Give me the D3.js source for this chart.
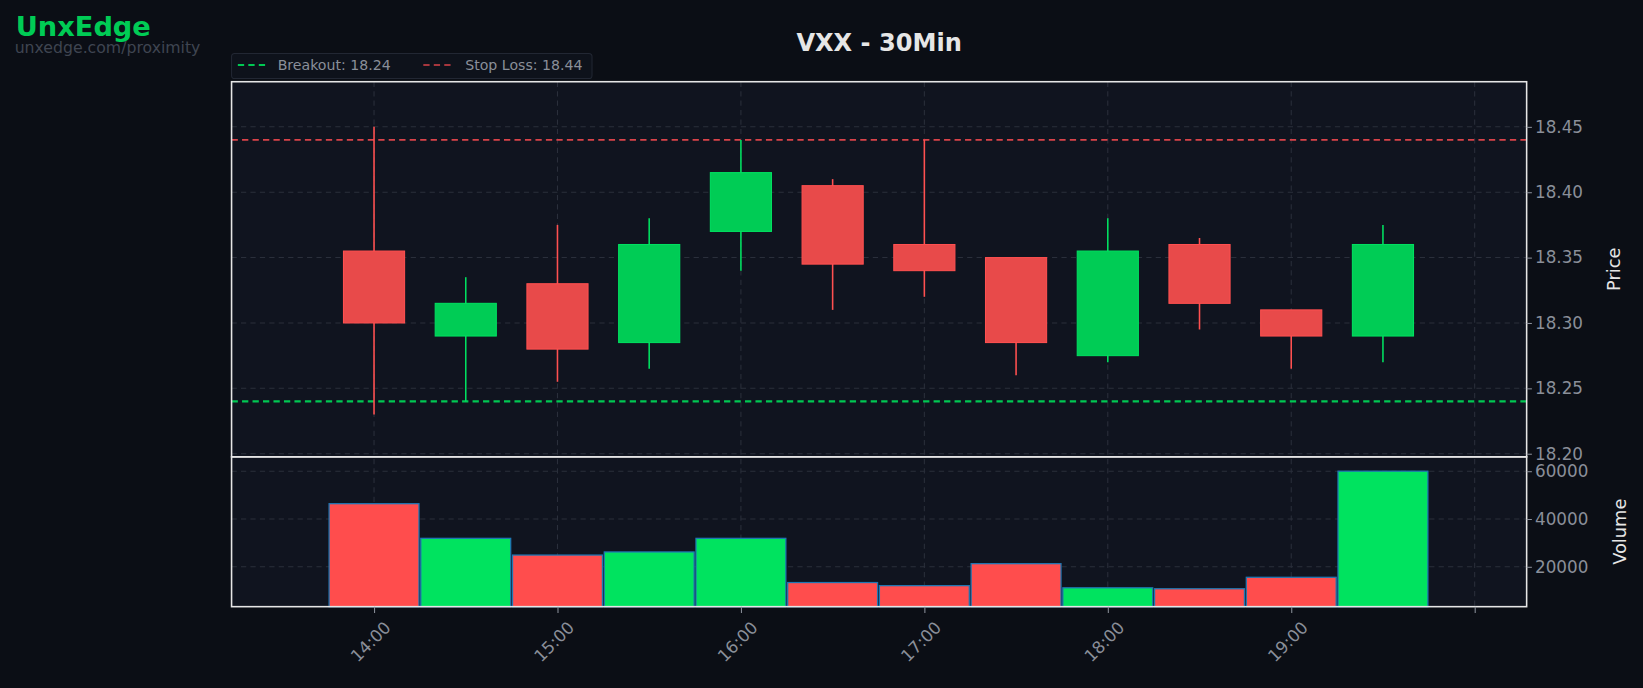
<!DOCTYPE html><html><head><meta charset="utf-8">
<script src="https://cdn.jsdelivr.net/npm/d3@7"></script>
<style>body{margin:0;background:#0b0e15;}svg{display:block}text{font-family:"DejaVu Sans",sans-serif}</style></head><body>
<svg id="c" width="1643" height="688"></svg>
<script>
const times=["14:00","14:30","15:00","15:30","16:00","16:30","17:00","17:30","18:00","18:30","19:00","19:30"];
const opens=[18.355,18.29,18.33,18.285,18.37,18.405,18.36,18.35,18.275,18.36,18.31,18.29];
const highs=[18.45,18.335,18.375,18.38,18.44,18.41,18.44,18.35,18.38,18.365,18.31,18.375];
const lows=[18.23,18.24,18.255,18.265,18.34,18.31,18.32,18.26,18.27,18.295,18.265,18.27];
const closes=[18.30,18.315,18.28,18.36,18.415,18.345,18.34,18.285,18.355,18.315,18.29,18.36];
const volumes=[46400,31900,24900,26200,31900,13400,12100,21300,11200,10800,15600,60000];
const priceTicks=[18.20,18.25,18.30,18.35,18.40,18.45];
const volTicks=[20000,40000,60000];
const xTicks=["14:00","15:00","16:00","17:00","18:00","19:00","20:00"];
const breakout=18.24, stopLoss=18.44;
const toMin=s=>{const [h,m]=s.split(":").map(Number);return h*60+m;};
const svg=d3.select("#c").append("g").attr("transform","scale(1.0478)");
const L=221,R=1457,pT=78,pB=436,vT=436,vB=579;
const x=d3.scaleLinear().domain([13*60+13.4,20*60+17]).range([L,R]);
const y=d3.scaleLinear().domain([18.1976,18.4845]).range([pB,pT]);
const yv=d3.scaleLinear().domain([3300,66000]).range([vB,vT]);
const grid="#2a2f3b";
svg.append("rect").attr("x",L).attr("y",pT).attr("width",R-L).attr("height",vB-pT).attr("fill","#10141f");
const g=svg.append("g");
xTicks.forEach(t=>{g.append("line").attr("x1",x(toMin(t))).attr("x2",x(toMin(t))).attr("y1",pT).attr("y2",vB).attr("stroke",grid).attr("stroke-dasharray","5,4");});
priceTicks.forEach(t=>g.append("line").attr("x1",L).attr("x2",R).attr("y1",y(t)).attr("y2",y(t)).attr("stroke",grid).attr("stroke-dasharray","5,4"));
volTicks.forEach(t=>g.append("line").attr("x1",L).attr("x2",R).attr("y1",yv(t)).attr("y2",yv(t)).attr("stroke",grid).attr("stroke-dasharray","5,4"));
svg.append("line").attr("x1",L).attr("x2",R).attr("y1",y(stopLoss)).attr("y2",y(stopLoss)).attr("stroke","#d9434a").attr("stroke-width",1.5).attr("stroke-dasharray","6,4");
svg.append("line").attr("x1",L).attr("x2",R).attr("y1",y(breakout)).attr("y2",y(breakout)).attr("stroke","#00c853").attr("stroke-width",2).attr("stroke-dasharray","6,4");
const bw=x(toMin("14:00")+20)-x(toMin("14:00"));
const vw=x(toMin("14:00")+29.4)-x(toMin("14:00"));
times.forEach((t,i)=>{
 const up=closes[i]>=opens[i];const cx=x(toMin(t));
 const wick=up?"#00e060":"#ff5050";
 svg.append("line").attr("x1",cx).attr("x2",cx).attr("y1",y(highs[i])).attr("y2",y(lows[i])).attr("stroke",wick).attr("stroke-width",1.5);
 const top=y(Math.max(opens[i],closes[i])),bot=y(Math.min(opens[i],closes[i]));
 svg.append("rect").attr("x",cx-bw/2).attr("y",top).attr("width",bw).attr("height",bot-top).attr("fill",up?"#00cc55":"#e84a4a").attr("stroke",up?"#00e060":"#ff5050").attr("stroke-width",1);
 svg.append("rect").attr("x",cx-vw/2).attr("y",yv(volumes[i])).attr("width",vw).attr("height",vB-yv(volumes[i])).attr("fill",up?"#00e35f":"#ff4d4d").attr("stroke","#1f77b4").attr("stroke-width",1.2);
});
svg.append("rect").attr("x",L).attr("y",pT).attr("width",R-L).attr("height",pB-pT).attr("fill","none").attr("stroke","#e6e6e6").attr("stroke-width",1.5);
svg.append("rect").attr("x",L).attr("y",vT).attr("width",R-L).attr("height",vB-vT).attr("fill","none").attr("stroke","#e6e6e6").attr("stroke-width",1.5);
const ay=svg.append("g").attr("transform",`translate(${R},0)`).call(d3.axisRight(y).tickValues(priceTicks).tickFormat(d3.format(".2f")).tickSize(5));
const av=svg.append("g").attr("transform",`translate(${R},0)`).call(d3.axisRight(yv).tickValues(volTicks).tickFormat(d3.format("d")).tickSize(5));
const ax=svg.append("g").attr("transform",`translate(0,${vB})`).call(d3.axisBottom(x).tickValues(xTicks.map(toMin)).tickFormat((d,i)=>i<6?xTicks[i]:"").tickSize(6));
[ay,av,ax].forEach(a=>{a.select(".domain").remove();a.selectAll("line").attr("stroke","#8a8f99");a.selectAll("text").attr("fill","#8a8f99").attr("font-size",16);});
ax.selectAll("text").attr("text-anchor","end").attr("dx","-0.2em").attr("dy","1.1em").attr("transform","rotate(-45)");
svg.append("text").attr("transform",`translate(1546,${(pT+pB)/2}) rotate(-90)`).attr("text-anchor","middle").attr("fill","#e6e6e6").attr("font-size",17).text("Price");
svg.append("text").attr("transform",`translate(1552,${(vT+vB)/2}) rotate(-90)`).attr("text-anchor","middle").attr("fill","#e6e6e6").attr("font-size",17).text("Volume");
svg.append("text").attr("x",839).attr("y",49).attr("text-anchor","middle").attr("fill","#e6e6e6").attr("font-size",23).attr("font-weight","bold").text("VXX - 30Min");
svg.append("text").attr("x",15).attr("y",34).attr("fill","#00cc55").attr("font-size",26).attr("font-weight","bold").text("UnxEdge");
svg.append("text").attr("x",14).attr("y",51).attr("fill","#3f4551").attr("font-size",15).text("unxedge.com/proximity");
svg.append("rect").attr("x",221).attr("y",51).attr("width",344).attr("height",24).attr("rx",3).attr("fill","#0e121b").attr("stroke","#222733");
svg.append("line").attr("x1",227).attr("x2",253).attr("y1",62).attr("y2",62).attr("stroke","#00c853").attr("stroke-width",2).attr("stroke-dasharray","6,4");
svg.append("text").attr("x",265).attr("y",67).attr("fill","#8a8f99").attr("font-size",13.5).text("Breakout: 18.24");
svg.append("line").attr("x1",404).attr("x2",432).attr("y1",62).attr("y2",62).attr("stroke","#d9434a").attr("stroke-width",1.5).attr("stroke-dasharray","6,4");
svg.append("text").attr("x",444).attr("y",67).attr("fill","#8a8f99").attr("font-size",13.5).text("Stop Loss: 18.44");
</script></body></html>
